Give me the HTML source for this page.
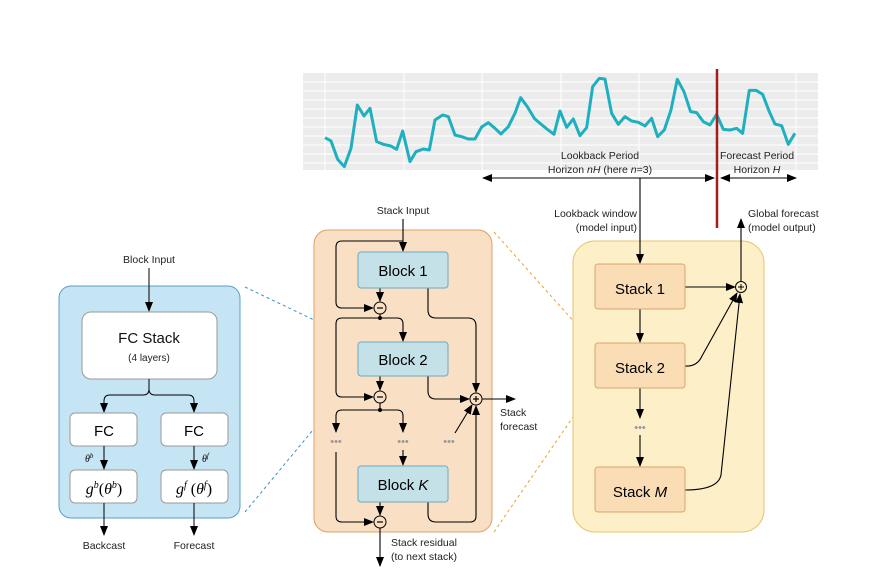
<!DOCTYPE html>
<html><head><meta charset="utf-8"><style>body{margin:0;background:#fff}svg{display:block;font-family:"Liberation Sans",sans-serif}</style></head><body>
<svg width="870" height="573" viewBox="0 0 870 573" xmlns="http://www.w3.org/2000/svg">
<defs>
<marker id="a" markerWidth="10" markerHeight="8" refX="9" refY="4" orient="auto" markerUnits="userSpaceOnUse"><path d="M0,0 L10,4 L0,8 z" fill="#000"/></marker>
</defs>
<!-- chart -->
<rect x="303" y="73" width="515" height="97" fill="#ececec"/>
<g stroke="#fff" stroke-width="1">
<line x1="303" y1="82" x2="818" y2="82"/><line x1="303" y1="91" x2="818" y2="91"/><line x1="303" y1="100" x2="818" y2="100"/><line x1="303" y1="109" x2="818" y2="109"/><line x1="303" y1="118" x2="818" y2="118"/><line x1="303" y1="127" x2="818" y2="127"/><line x1="303" y1="136" x2="818" y2="136"/><line x1="303" y1="145" x2="818" y2="145"/><line x1="303" y1="154" x2="818" y2="154"/><line x1="303" y1="163" x2="818" y2="163"/>
<line x1="325" y1="73" x2="325" y2="172"/><line x1="404" y1="73" x2="404" y2="170"/><line x1="482" y1="73" x2="482" y2="172"/><line x1="561" y1="73" x2="561" y2="170"/><line x1="639" y1="73" x2="639" y2="170"/><line x1="796" y1="73" x2="796" y2="172"/>
</g>
<g transform="translate(300,65) scale(0.3333)">
<polyline fill="none" stroke="#1fb0bf" stroke-width="9" stroke-linejoin="round" points="75,218 93,228 113,283 133,305 153,250 172,120 192,153 210,130 230,230 250,238 272,243 290,253 308,198 330,290 348,260 370,252 388,255 405,165 428,150 445,155 465,210 485,215 505,222 525,222 545,186 565,173 585,190 603,207 625,185 645,145 662,98 682,125 703,160 720,175 742,193 762,208 780,138 800,187 820,162 840,212 860,188 878,65 898,40 915,42 935,145 955,178 975,155 995,168 1015,172 1035,183 1055,160 1073,215 1093,195 1113,135 1132,43 1152,80 1172,140 1190,143 1210,170 1230,180 1250,148 1270,193 1290,195 1310,190 1328,205 1348,76 1368,76 1388,88 1408,140 1425,177 1445,182 1465,238 1485,205"/>
</g>
<text x="600" y="159" font-size="10.5" text-anchor="middle" fill="#222">Lookback Period</text>
<text x="600" y="173" font-size="10.5" text-anchor="middle" fill="#222">Horizon <tspan font-style="italic">nH</tspan> (here <tspan font-style="italic">n</tspan>=3)</text>
<text x="757" y="159" font-size="10.5" text-anchor="middle" fill="#222">Forecast Period</text>
<text x="757" y="173" font-size="10.5" text-anchor="middle" fill="#222">Horizon <tspan font-style="italic">H</tspan></text>
<line x1="600" y1="178" x2="483" y2="178" stroke="#000" marker-end="url(#a)"/>
<line x1="600" y1="178" x2="714" y2="178" stroke="#000" marker-end="url(#a)"/>
<line x1="757" y1="178" x2="721" y2="178" stroke="#000" marker-end="url(#a)"/>
<line x1="757" y1="178" x2="796" y2="178" stroke="#000" marker-end="url(#a)"/>
<line x1="717" y1="69" x2="717" y2="228" stroke="#a51c1c" stroke-width="2.5"/>

<!-- dashed connectors -->
<g stroke-dasharray="3,3" fill="none">
<line x1="245" y1="287" x2="356" y2="340" stroke="#3a8fbf"/>
<line x1="245" y1="512" x2="356" y2="378" stroke="#3a8fbf"/>
<line x1="494" y1="232" x2="593" y2="343" stroke="#e5a52a"/>
<line x1="494" y1="532" x2="593" y2="388" stroke="#e5a52a"/>
</g>

<!-- left block -->
<text x="149" y="263" font-size="10.5" text-anchor="middle" fill="#222">Block Input</text>
<rect x="59" y="286" width="181" height="232" rx="12" fill="#c6e5f4" stroke="#5a9fc6"/>
<line x1="149" y1="268" x2="149" y2="311" stroke="#000" marker-end="url(#a)"/>
<rect x="82" y="312" width="135" height="67" rx="9" fill="#fff" stroke="#999"/>
<text x="149" y="343" font-size="15" text-anchor="middle" fill="#111">FC Stack</text>
<text x="149" y="361" font-size="10" text-anchor="middle" fill="#222">(4 layers)</text>
<path d="M149,379 V389 Q149,395 143,395 H110 Q104,395 104,401 V412" fill="none" stroke="#000" marker-end="url(#a)"/>
<path d="M149,389 Q149,395 155,395 H188 Q194,395 194,401 V412" fill="none" stroke="#000" marker-end="url(#a)"/>
<rect x="70" y="413" width="67" height="33" rx="5" fill="#fff" stroke="#999"/>
<rect x="161" y="413" width="67" height="33" rx="5" fill="#fff" stroke="#999"/>
<text x="104" y="436" font-size="15" text-anchor="middle">FC</text>
<text x="194" y="436" font-size="15" text-anchor="middle">FC</text>
<line x1="104" y1="446" x2="104" y2="469" stroke="#000" marker-end="url(#a)"/>
<line x1="194" y1="446" x2="194" y2="469" stroke="#000" marker-end="url(#a)"/>
<text x="85" y="462" font-size="10" font-family="Liberation Serif,serif" font-style="italic">θ<tspan font-size="7" dy="-4">b</tspan></text>
<text x="202" y="462" font-size="10" font-family="Liberation Serif,serif" font-style="italic">θ<tspan font-size="7" dy="-4">f</tspan></text>
<rect x="70" y="470" width="67" height="33" rx="5" fill="#fff" stroke="#999"/>
<rect x="161" y="470" width="67" height="33" rx="5" fill="#fff" stroke="#999"/>
<text x="104" y="494" font-size="16" text-anchor="middle" font-family="Liberation Serif,serif"><tspan font-style="italic">g</tspan><tspan font-size="10" dy="-6" font-style="italic">b</tspan><tspan dy="6">(</tspan><tspan font-style="italic">θ</tspan><tspan font-size="10" dy="-6" font-style="italic">b</tspan><tspan dy="6">)</tspan></text>
<text x="194" y="494" font-size="16" text-anchor="middle" font-family="Liberation Serif,serif"><tspan font-style="italic">g</tspan><tspan font-size="10" dy="-6" font-style="italic">f</tspan><tspan dy="6"> (</tspan><tspan font-style="italic">θ</tspan><tspan font-size="10" dy="-6" font-style="italic">f</tspan><tspan dy="6">)</tspan></text>
<line x1="104" y1="503" x2="104" y2="535" stroke="#000" marker-end="url(#a)"/>
<line x1="194" y1="503" x2="194" y2="535" stroke="#000" marker-end="url(#a)"/>
<text x="104" y="549" font-size="10.5" text-anchor="middle" fill="#222">Backcast</text>
<text x="194" y="549" font-size="10.5" text-anchor="middle" fill="#222">Forecast</text>

<!-- middle stack -->
<text x="403" y="214" font-size="10.5" text-anchor="middle" fill="#222">Stack Input</text>
<rect x="314" y="230" width="178" height="302" rx="14" fill="#f9dfc4" stroke="#dea066"/>
<g fill="none" stroke="#000" stroke-width="1.1">
<line x1="403" y1="219" x2="403" y2="251" marker-end="url(#a)"/>
<path d="M403,241 H342 Q336,241 336,247 V302 Q336,308 342,308 H373" marker-end="url(#a)"/>
<line x1="380" y1="288" x2="380" y2="301" marker-end="url(#a)"/>
<path d="M380,314 V318 H342 Q336,318 336,324 V391 Q336,397 342,397 H373" marker-end="url(#a)"/>
<path d="M380,318 H397 Q403,318 403,324 V341" marker-end="url(#a)"/>
<line x1="380" y1="376" x2="380" y2="390" marker-end="url(#a)"/>
<path d="M380,403 V410 H342 Q336,410 336,416 V432" marker-end="url(#a)"/>
<path d="M380,410 H397 Q403,410 403,416 V432" marker-end="url(#a)"/>
<line x1="403" y1="450" x2="403" y2="465" marker-end="url(#a)"/>
<path d="M336,452 V516 Q336,522 342,522 H373" marker-end="url(#a)"/>
<line x1="380" y1="502" x2="380" y2="515" marker-end="url(#a)"/>
<line x1="380" y1="528" x2="380" y2="566" marker-end="url(#a)"/>
<path d="M428,288 V310 Q428,318 436,318 H468 Q476,318 476,326 V392" marker-end="url(#a)"/>
<path d="M428,376 V391 Q428,399 436,399 H469" marker-end="url(#a)"/>
<path d="M428,502 V514 Q428,522 436,522 H470 Q476,522 476,516 V406" marker-end="url(#a)"/>
<line x1="455" y1="433" x2="472" y2="405" marker-end="url(#a)"/>
<line x1="482" y1="399" x2="515" y2="399" marker-end="url(#a)"/>
</g>
<g fill="#f9dfc4" stroke="#000">
<circle cx="380" cy="308" r="6"/><circle cx="380" cy="397" r="6"/><circle cx="380" cy="522" r="6"/><circle cx="476" cy="399" r="6"/>
</g>
<g stroke="#000" stroke-width="1.2">
<line x1="377" y1="308" x2="383" y2="308"/><line x1="377" y1="397" x2="383" y2="397"/><line x1="377" y1="522" x2="383" y2="522"/>
<line x1="473" y1="399" x2="479" y2="399"/><line x1="476" y1="396" x2="476" y2="402"/>
</g>
<circle cx="380" cy="318" r="2" fill="#000"/><circle cx="380" cy="410" r="2" fill="#000"/>
<rect x="358" y="252" width="90" height="36" rx="3" fill="#c5e1e8" stroke="#6aa9c0"/>
<rect x="358" y="342" width="90" height="34" rx="3" fill="#c5e1e8" stroke="#6aa9c0"/>
<rect x="358" y="466" width="90" height="36" rx="3" fill="#c5e1e8" stroke="#6aa9c0"/>
<text x="403" y="276" font-size="15" text-anchor="middle">Block 1</text>
<text x="403" y="365" font-size="15" text-anchor="middle">Block 2</text>
<text x="403" y="490" font-size="15" text-anchor="middle">Block <tspan font-style="italic">K</tspan></text>
<g fill="#999" font-size="11" text-anchor="middle"><text x="336" y="445">•••</text><text x="403" y="445">•••</text><text x="449" y="445">•••</text></g>
<text x="500" y="416" font-size="10.5" fill="#222">Stack</text>
<text x="500" y="430" font-size="10.5" fill="#222">forecast</text>
<text x="391" y="546" font-size="10.5" fill="#222">Stack residual</text>
<text x="391" y="560" font-size="10.5" fill="#222">(to next stack)</text>

<!-- right model -->
<text x="637" y="217" font-size="10.5" text-anchor="end" fill="#222">Lookback window</text>
<text x="637" y="231" font-size="10.5" text-anchor="end" fill="#222">(model input)</text>
<text x="748" y="217" font-size="10.5" fill="#222">Global forecast</text>
<text x="748" y="231" font-size="10.5" fill="#222">(model output)</text>
<rect x="573" y="241" width="191" height="291" rx="22" fill="#fdefc8" stroke="#e6c46e"/>
<g fill="none" stroke="#000" stroke-width="1.1">
<line x1="640" y1="178" x2="640" y2="263" marker-end="url(#a)"/>
<line x1="640" y1="309" x2="640" y2="342" marker-end="url(#a)"/>
<line x1="640" y1="388" x2="640" y2="418" marker-end="url(#a)"/>
<line x1="640" y1="435" x2="640" y2="466" marker-end="url(#a)"/>
<line x1="685" y1="287" x2="735" y2="287" marker-end="url(#a)"/>
<path d="M685,366 Q697,367 702,356 L737,293" marker-end="url(#a)"/>
<path d="M685,490 Q718,490 721,475 L740,294" marker-end="url(#a)"/>
<line x1="741" y1="282" x2="741" y2="219" marker-end="url(#a)"/>
</g>
<circle cx="741" cy="287" r="5.5" fill="#fdefc8" stroke="#000"/>
<line x1="738" y1="287" x2="744" y2="287" stroke="#000"/><line x1="741" y1="284" x2="741" y2="290" stroke="#000"/>
<rect x="595" y="264" width="90" height="45" rx="3" fill="#fadcb5" stroke="#dba56b"/>
<rect x="595" y="343" width="90" height="45" rx="3" fill="#fadcb5" stroke="#dba56b"/>
<rect x="595" y="467" width="90" height="45" rx="3" fill="#fadcb5" stroke="#dba56b"/>
<text x="640" y="294" font-size="15" text-anchor="middle">Stack 1</text>
<text x="640" y="373" font-size="15" text-anchor="middle">Stack 2</text>
<text x="640" y="497" font-size="15" text-anchor="middle">Stack <tspan font-style="italic">M</tspan></text>
<text x="640" y="431" font-size="11" fill="#999" text-anchor="middle">•••</text>
</svg>
</body></html>
